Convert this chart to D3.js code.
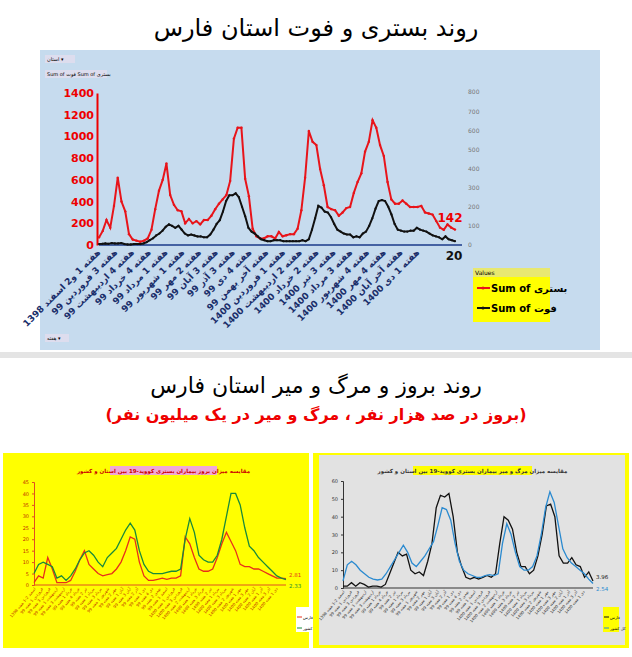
<!DOCTYPE html><html><head><meta charset="utf-8"><script src="https://cdn.jsdelivr.net/npm/d3@7"></script>
<style>body{margin:0;background:#fff}text{font-family:"DejaVu Sans",sans-serif}</style></head><body><svg id="c" width="632" height="657"></svg>
<script>
const weekLabels=["هفته 1 و2 اسفند 1398","هفته 3 فروردین 99","هفته 4 اردیبهشت 99","هفته 4 خرداد 99","هفته 1 مرداد 99","هفته 1 شهریور 99","هفته 2 مهر 99","هفته 3 آبان 99","هفته 3 آذر 99","هفته 4 دی 99","هفته آخر بهمن 99","هفته 1 فروردین 1400","هفته 2 اردیبهشت 1400","هفته 2 خرداد 1400","هفته 3 تیر 1400","هفته 3 مرداد 1400","هفته 4 شهریور 1400","هفته 4 مهر 1400","هفته آخر آبان 1400","هفته 1 دی 1400"];
const hospital=[70,130,230,160,360,620,400,310,100,50,40,30,40,60,140,330,500,600,750,460,370,320,310,200,240,200,220,190,230,230,270,330,380,420,460,590,980,1080,1080,610,450,150,80,60,60,80,80,60,120,80,90,100,100,150,320,620,1050,950,920,700,550,350,330,320,270,300,340,350,480,580,660,860,950,1150,1080,920,820,580,420,380,380,410,380,350,350,350,360,300,290,280,220,160,140,190,160,142];
const deaths=[5,6,8,6,10,8,8,10,5,3,3,5,5,5,8,15,25,35,50,60,75,95,108,100,90,100,80,60,50,55,50,45,45,40,40,55,80,110,130,175,230,260,260,270,250,200,150,90,70,60,45,30,25,20,20,25,25,25,20,20,20,20,20,20,25,20,30,80,140,205,195,175,170,145,110,80,70,60,55,55,40,45,40,60,70,100,140,190,230,235,230,200,160,110,80,75,70,70,75,75,90,80,75,70,60,50,45,40,30,45,30,25,20];
const incFars=[1,4,3,12,7,1,1,1,2,6,11,15,9,7,5,4,4.5,5,7,10,15,21,20,10,4,2,2,2.5,3,2.5,3,3,4,21,18,12,7,6,6,7,12,18,23,19,15,9,8,8,7,7,6,5,4,3,3,2.81];
const incIran=[5,9,10,9,8,3,4,2,4,7,11,14,15,13,10,8,12,14,16,20,24,27,24,15,9,6,5,5,5,5.5,6,6,7,20,29,23,13,11,10,10,13,20,30,40,40,35,25,17,15,12,10,8,6,4,3,2.33];
const mortFars=[1,1,3,1,3,2,0.5,1,1,0.5,2,8,14,20,18,19,10,8,9,7,15,25,45,52,51,53,40,20,12,6,5,6,5,6,7,6,8,25,40,38,33,20,12,12,8,10,18,30,46,47,40,18,14,14,17,13,12,6,9,3.96];
const mortIran=[4,13,15,13,10,8,6,5,4.5,5,8,12,16,20,24,20,14,12,15,18,22,26,35,45,44,38,25,15,10,8,7,6,6,7,7.5,7,8,25,36,30,20,12,10,10,12,18,30,45,54,48,35,22,17,14,12,10,8,5,2.54];
const smallLabels=["1398 اسفند 2-1 هفته","99 فروردین 1 هفته","99 فروردین 3 هفته","99 اردیبهشت 1 هفته","99 اردیبهشت 3 هفته","99 خرداد 1 هفته","99 خرداد 4 هفته","99 تیر 2 هفته","99 مرداد 1 هفته","99 مرداد 3 هفته","99 شهریور 1 هفته","99 مهر 2 هفته","99 آبان 1 هفته","99 آبان 3 هفته","99 آذر 2 هفته","99 دی 1 هفته","99 دی 4 هفته","99 بهمن 2 هفته","99 اسفند 1 هفته","1400 فروردین 1 هفته","1400 فروردین 3 هفته","1400 اردیبهشت 2 هفته","1400 خرداد 1 هفته","1400 خرداد 3 هفته","1400 تیر 2 هفته","1400 مرداد 1 هفته","1400 مرداد 3 هفته","1400 شهریور 2 هفته","1400 مهر 1 هفته","1400 مهر 3 هفته","1400 آبان 2 هفته","1400 آذر 1 هفته","1400 آذر 3 هفته","1400 دی 1 هفته"];

const svg=d3.select("#c");
svg.append("text").attr("x",316).attr("y",36).attr("text-anchor","middle").attr("font-size",24).text("روند بستری و فوت استان فارس");
svg.append("rect").attr("x",40).attr("y",50).attr("width",560).attr("height",300).attr("fill","#c6dbee");
const x1=d3.scaleLinear().domain([0,1]).range([99,455]);
const yL=d3.scaleLinear().domain([0,1400]).range([245,93]);
const yR=d3.scaleLinear().domain([0,800]).range([245,92]);
const gl=svg.append("g").attr("transform","translate(97,0)").call(d3.axisLeft(yL).tickValues(d3.range(0,1401,200)).tickSize(0).tickFormat(d3.format("d")));
gl.select(".domain").attr("stroke","#e00").attr("stroke-width",2);
gl.selectAll("text").attr("fill","#e00").attr("font-weight","bold").attr("font-size",11);
const gr=svg.append("g").attr("transform","translate(465,0)").call(d3.axisRight(yR).tickValues(d3.range(0,801,100)).tickSize(0));
gr.select(".domain").remove();gr.selectAll("text").attr("fill","#777").attr("font-size",6);
svg.append("line").attr("x1",99).attr("x2",462).attr("y1",yL(0)).attr("y2",yL(0)).attr("stroke","#1a3a8a").attr("stroke-width",1.5);
function plot(data,y,col,w,xs,r){const n=data.length;const xx=i=>xs(i/(n-1));
 svg.append("path").datum(data).attr("fill","none").attr("stroke",col).attr("stroke-width",w).attr("d",d3.line().x((d,i)=>xx(i)).y(d=>y(d)));
 if(r) svg.append("g").selectAll("circle").data(data).join("circle").attr("cx",(d,i)=>xx(i)).attr("cy",d=>y(d)).attr("r",r).attr("fill",col);}
plot(hospital,yL,"#e8141a",2,x1,1.2);
plot(deaths,yR,"#111",2,x1,1.1);
svg.append("text").attr("x",450).attr("y",222).attr("text-anchor","middle").attr("fill","#e00").attr("font-weight","bold").attr("font-size",12).text("142");
svg.append("text").attr("x",454).attr("y",260).attr("text-anchor","middle").attr("fill","#111").attr("font-weight","bold").attr("font-size",12).text("20");
const xt=d3.scalePoint().domain(weekLabels).range([101,420]);
svg.append("g").selectAll("text").data(weekLabels).join("text").attr("transform",d=>`translate(${xt(d)},253) rotate(-45)`).attr("text-anchor","end").attr("font-size",9).attr("font-weight","bold").attr("fill","#1a2e6a").text(d=>d);
[[45,55,30,"استان ▾"],[45,70,62,"Sum of فوت  Sum of بستری"],[45,334,24,"هفته ▾"]].forEach(b=>{svg.append("rect").attr("x",b[0]).attr("y",b[1]).attr("width",b[2]).attr("height",8).attr("fill","#dde");svg.append("text").attr("x",b[0]+2).attr("y",b[1]+6).attr("font-size",5).text(b[3]);});
svg.append("rect").attr("x",473).attr("y",268).attr("width",77).attr("height",54).attr("fill","#ffff00");
svg.append("rect").attr("x",473).attr("y",268).attr("width",77).attr("height",9).attr("fill","#e8e870");
svg.append("text").attr("x",475).attr("y",275).attr("font-size",6).text("Values");
[["Sum of بستری","#e8141a",292],["Sum of فوت","#111",312]].forEach(l=>{svg.append("line").attr("x1",477).attr("x2",490).attr("y1",l[2]-4).attr("y2",l[2]-4).attr("stroke",l[1]).attr("stroke-width",2);
svg.append("circle").attr("cx",483).attr("cy",l[2]-4).attr("r",1.5).attr("fill",l[1]);
svg.append("text").attr("x",491).attr("y",l[2]).attr("font-size",10).attr("font-weight","bold").text(l[0]);});
svg.append("rect").attr("x",0).attr("y",352).attr("width",632).attr("height",6).attr("fill","#e4e4e4");
svg.append("text").attr("x",316).attr("y",393).attr("text-anchor","middle").attr("font-size",22).text("روند بروز و مرگ و میر استان فارس");
svg.append("text").attr("x",316).attr("y",420).attr("text-anchor","middle").attr("font-size",16).attr("font-weight","bold").attr("fill","#e00").text("(بروز در صد هزار نفر ، مرگ و میر در یک میلیون نفر)");
function panel(o){
 svg.append("rect").attr("x",o.bx).attr("y",453).attr("width",o.bw).attr("height",195).attr("fill",o.bg);
 if(o.inner) svg.append("rect").attr("x",o.bx+6).attr("y",455).attr("width",o.bw-10).attr("height",190).attr("fill",o.inner);
 const x=d3.scaleLinear().domain([0,1]).range([o.x0,o.x1]);
 const y=d3.scaleLinear().domain([0,o.max]).range([o.y0,o.yT]);
 const ga=svg.append("g").attr("transform",`translate(${o.x0},0)`).call(d3.axisLeft(y).ticks(o.max/o.step).tickSize(2));
 ga.selectAll("text").attr("font-size",5).attr("fill",o.tc);ga.selectAll("line,path").attr("stroke",o.ac);
 svg.append("line").attr("x1",o.x0).attr("x2",o.x1).attr("y1",o.y0).attr("y2",o.y0).attr("stroke",o.ac).attr("stroke-width",1);
 plot(o.s1,y,o.c1,1.3,x,0);plot(o.s2,y,o.c2,1.3,x,0);
 svg.append("rect").attr("x",o.tx).attr("y",466).attr("width",o.tw).attr("height",9).attr("fill",o.tbg);
 svg.append("text").attr("x",o.tx+o.tw/2).attr("y",473).attr("text-anchor","middle").attr("font-size",5.5).attr("font-weight","bold").attr("fill",o.ttc).text(o.title);
 const xs=d3.scalePoint().domain(smallLabels).range([o.x0+2,o.x1-8]);
 svg.append("g").selectAll("text").data(smallLabels).join("text").attr("transform",d=>`translate(${xs(d)},${o.y0+4}) rotate(-50)`).attr("text-anchor","end").attr("font-size",4).attr("fill",o.lc).text(d=>d);
 svg.append("text").attr("x",o.x1+3).attr("y",y(o.s1[o.s1.length-1])-2).attr("font-size",5.5).attr("fill",o.c1).text(o.v1);
 svg.append("text").attr("x",o.x1+3).attr("y",o.y0+3).attr("font-size",5.5).attr("fill",o.c2).text(o.v2);
 svg.append("rect").attr("x",o.x1+10).attr("y",607).attr("width",16).attr("height",25).attr("fill",o.lgbg);
 [[o.c1,"فارس",617],[o.c2,"کل کشور",628]].forEach(l=>{svg.append("line").attr("x1",o.x1+11).attr("x2",o.x1+16).attr("y1",l[2]).attr("y2",l[2]).attr("stroke",l[0]).attr("stroke-width",1);
 svg.append("text").attr("x",o.x1+17).attr("y",l[2]+1.5).attr("font-size",4).text(l[1]);});
}
panel({bx:3,bw:306,bg:"#ffff00",x0:34,x1:286,y0:585,yT:482,max:45,step:5,s1:incFars,s2:incIran,c1:"#e8301a",c2:"#1a8a3a",tc:"#c03000",ac:"#e05020",lc:"#c03000",tx:110,tw:107,tbg:"#f0a8d8",ttc:"#c00",title:"مقایسه میزان بروز بیماران بستری کووید-19 بین استان و کشور",v1:"2.81",v2:"2.33",lgbg:"#fff"});
panel({bx:313,bw:316,bg:"#ffff00",inner:"#e2e2e2",x0:343,x1:593,y0:588,yT:481,max:60,step:10,s1:mortFars,s2:mortIran,c1:"#111",c2:"#2a8ad0",tc:"#333",ac:"#333",lc:"#333",tx:413,tw:119,tbg:"#ffff00",ttc:"#333",title:"مقایسه میزان مرگ و میر بیماران بستری کووید-19 بین استان و کشور",v1:"3.96",v2:"2.54",lgbg:"#ffff00"});
</script></body></html>
